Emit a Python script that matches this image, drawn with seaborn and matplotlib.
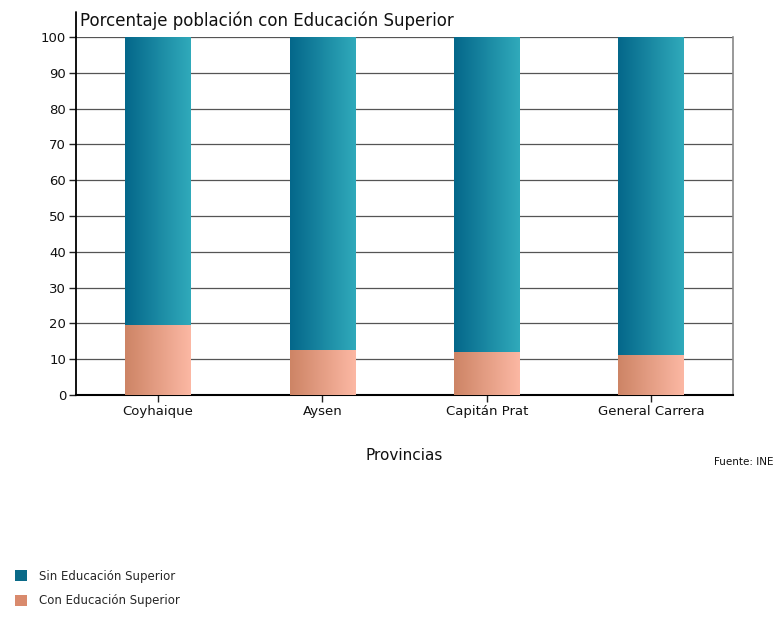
import numpy as np
import pandas as pd
import matplotlib
matplotlib.use("Agg")
import matplotlib.pyplot as plt
import seaborn as sns
from matplotlib.colors import LinearSegmentedColormap
from matplotlib.patches import Patch
from matplotlib.lines import Line2D

# Datos
provincias = ["Coyhaique", "Aysen", "Capitán Prat", "General Carrera"]
con_educacion = [19.4, 12.4, 12.0, 11.1]
sin_educacion = [100 - v for v in con_educacion]

df = pd.DataFrame({"provincia": provincias,
                   "con": con_educacion,
                   "total": [c + s for c, s in zip(con_educacion, sin_educacion)]})

sns.set_style("ticks")
plt.rcParams['font.family'] = ['DejaVu Sans']

fig = plt.figure(figsize=(7.75, 6.18), dpi=100)
ax = fig.add_axes([0.098, 0.361, 0.848, 0.579])

sns.barplot(data=df, x="provincia", y="total", color="#1a8aa0", width=0.4, ax=ax)
n_sin = len(ax.patches)
sns.barplot(data=df, x="provincia", y="con", color="#e8a088", width=0.4, ax=ax)

teal = LinearSegmentedColormap.from_list("teal", ["#04678a", "#30aabb"])
salmon = LinearSegmentedColormap.from_list("salmon", ["#cd8465", "#fcb8a4"])
grad = np.linspace(0, 1, 256).reshape(1, -1)

# relleno en degradado horizontal para cada barra
for i, p in enumerate(ax.patches):
    cmap = teal if i < n_sin else salmon
    x0, y0 = p.get_x(), p.get_y()
    w, h = p.get_width(), p.get_height()
    p.set_facecolor("none")
    p.set_edgecolor("none")
    ax.imshow(grad, cmap=cmap, aspect="auto", extent=(x0, x0 + w, y0, y0 + h),
              zorder=2 + (1 if i >= n_sin else 0))

ax.set_xlim(-0.5, 3.5)
ax.set_ylim(0, 100)
ax.set_yticks(range(0, 101, 10))
ax.yaxis.grid(True, color="#555555", linewidth=0.9, zorder=0.5)
ax.set_axisbelow(True)

ax.spines["top"].set_visible(False)
ax.spines["right"].set_visible(True)
ax.spines["right"].set_color("#888888")
ax.spines["right"].set_linewidth(1.2)
ax.spines["left"].set_color("black")
ax.spines["left"].set_linewidth(1.3)
ax.spines["bottom"].set_color("black")
ax.spines["bottom"].set_linewidth(1.5)

# extensión del eje y por encima del 100
ax.add_line(Line2D([0, 0], [1, 1.07], transform=ax.transAxes, color="black",
                   linewidth=1.3, clip_on=False))

ax.tick_params(axis="both", which="both", direction="out", length=5, width=1,
               color="#222222", labelcolor="#111111", labelsize=9.5,
               left=True, bottom=True, pad=2)
ax.set_xlabel("Provincias", fontsize=11, labelpad=22, color="#111111")
ax.set_ylabel("")

ax.text(0.006, 1.02, "Porcentaje población con Educación Superior", transform=ax.transAxes,
        fontsize=12, ha="left", va="bottom", color="#111111")

fig.text(0.998, 0.252, "Fuente: INE", fontsize=7.5, ha="right", va="center", color="#111111")

handles = [Patch(facecolor="#0a6a88", edgecolor="none", label="Sin Educación Superior"),
           Patch(facecolor="#d98a6d", edgecolor="none", label="Con Educación Superior")]
fig.legend(handles=handles, loc="lower left", bbox_to_anchor=(0.006, 0.0),
           frameon=False, fontsize=8.5, handlelength=1.0, handleheight=1.0,
           handletextpad=1.0, labelspacing=1.0)

fig.savefig("out.png", dpi=100)
